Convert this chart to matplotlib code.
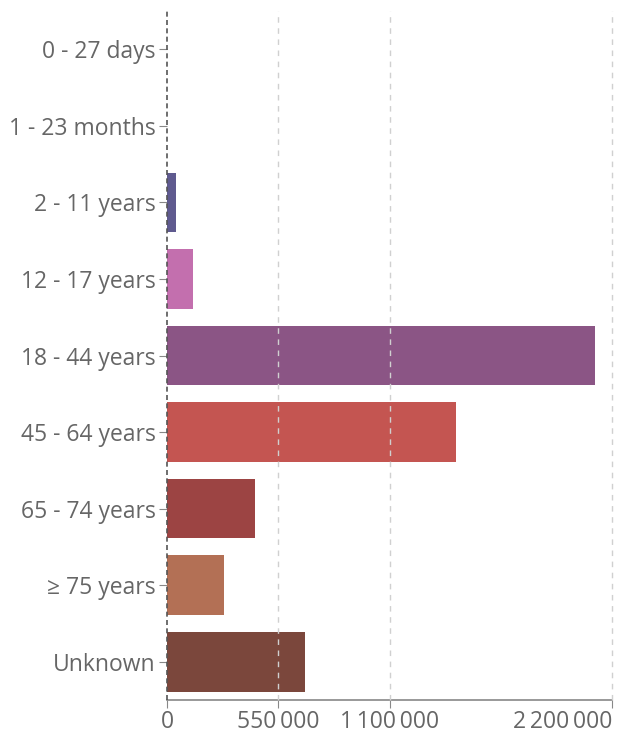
import matplotlib
matplotlib.use("Agg")
import matplotlib.pyplot as plt
from matplotlib.ticker import FuncFormatter

categories = ["0 - 27 days", "1 - 23 months", "2 - 11 years", "12 - 17 years",
              "18 - 44 years", "45 - 64 years", "65 - 74 years", "\u2265 75 years", "Unknown"]
values = [800, 1500, 43000, 128500, 2116000, 1429000, 435000, 282000, 682000]
colors = ["#4f6fa8", "#6a8fc4", "#5f5a8f", "#c36fae", "#8b5585",
          "#c45551", "#9c4443", "#b37055", "#7b473c"]
xticks = [0, 550000, 1100000, 2200000]

plt.rcParams['font.family'] = ['Open Sans', 'DejaVu Sans']
fig = plt.figure(figsize=(6.23, 7.36), dpi=100)
ax = fig.add_axes([167/623, 36/736, (612-167)/623, (700-11)/736])

y = list(range(len(categories)))
ax.barh(y, values, height=0.78, color=colors, zorder=2)
ax.set_ylim(len(categories) - 0.5, -0.5)
ax.set_xlim(0, 2200000)
ax.set_yticks(y)
ax.set_yticklabels(categories)
ax.set_xticks(xticks)
ax.xaxis.set_major_formatter(FuncFormatter(lambda v, p: f"{int(v):,}".replace(",", "\u2009")))

for xv in xticks[1:]:
    ax.axvline(xv, color="#d0d0d0", lw=1, ls=(0, (4, 4)), zorder=3, clip_on=False)
ax.axvline(0, color="#555555", lw=1.2, ls=(0, (3, 2)), zorder=4, clip_on=False)

for s in ["top", "right", "left"]:
    ax.spines[s].set_visible(False)
ax.spines["bottom"].set_color("#888888")
ax.spines["bottom"].set_linewidth(1.2)
ax.tick_params(axis="y", length=6, color="#888888", labelcolor="#666666", labelsize=16.5, pad=2)
ax.tick_params(axis="x", length=6, color="#888888", labelcolor="#666666", labelsize=16.5, pad=1)

fig.canvas.draw()
xlabels = ax.get_xticklabels()
xlabels[-1].set_horizontalalignment("right")
xlabels[-1].set_x(xticks[-1])

fig.savefig("out.png", dpi=100)
